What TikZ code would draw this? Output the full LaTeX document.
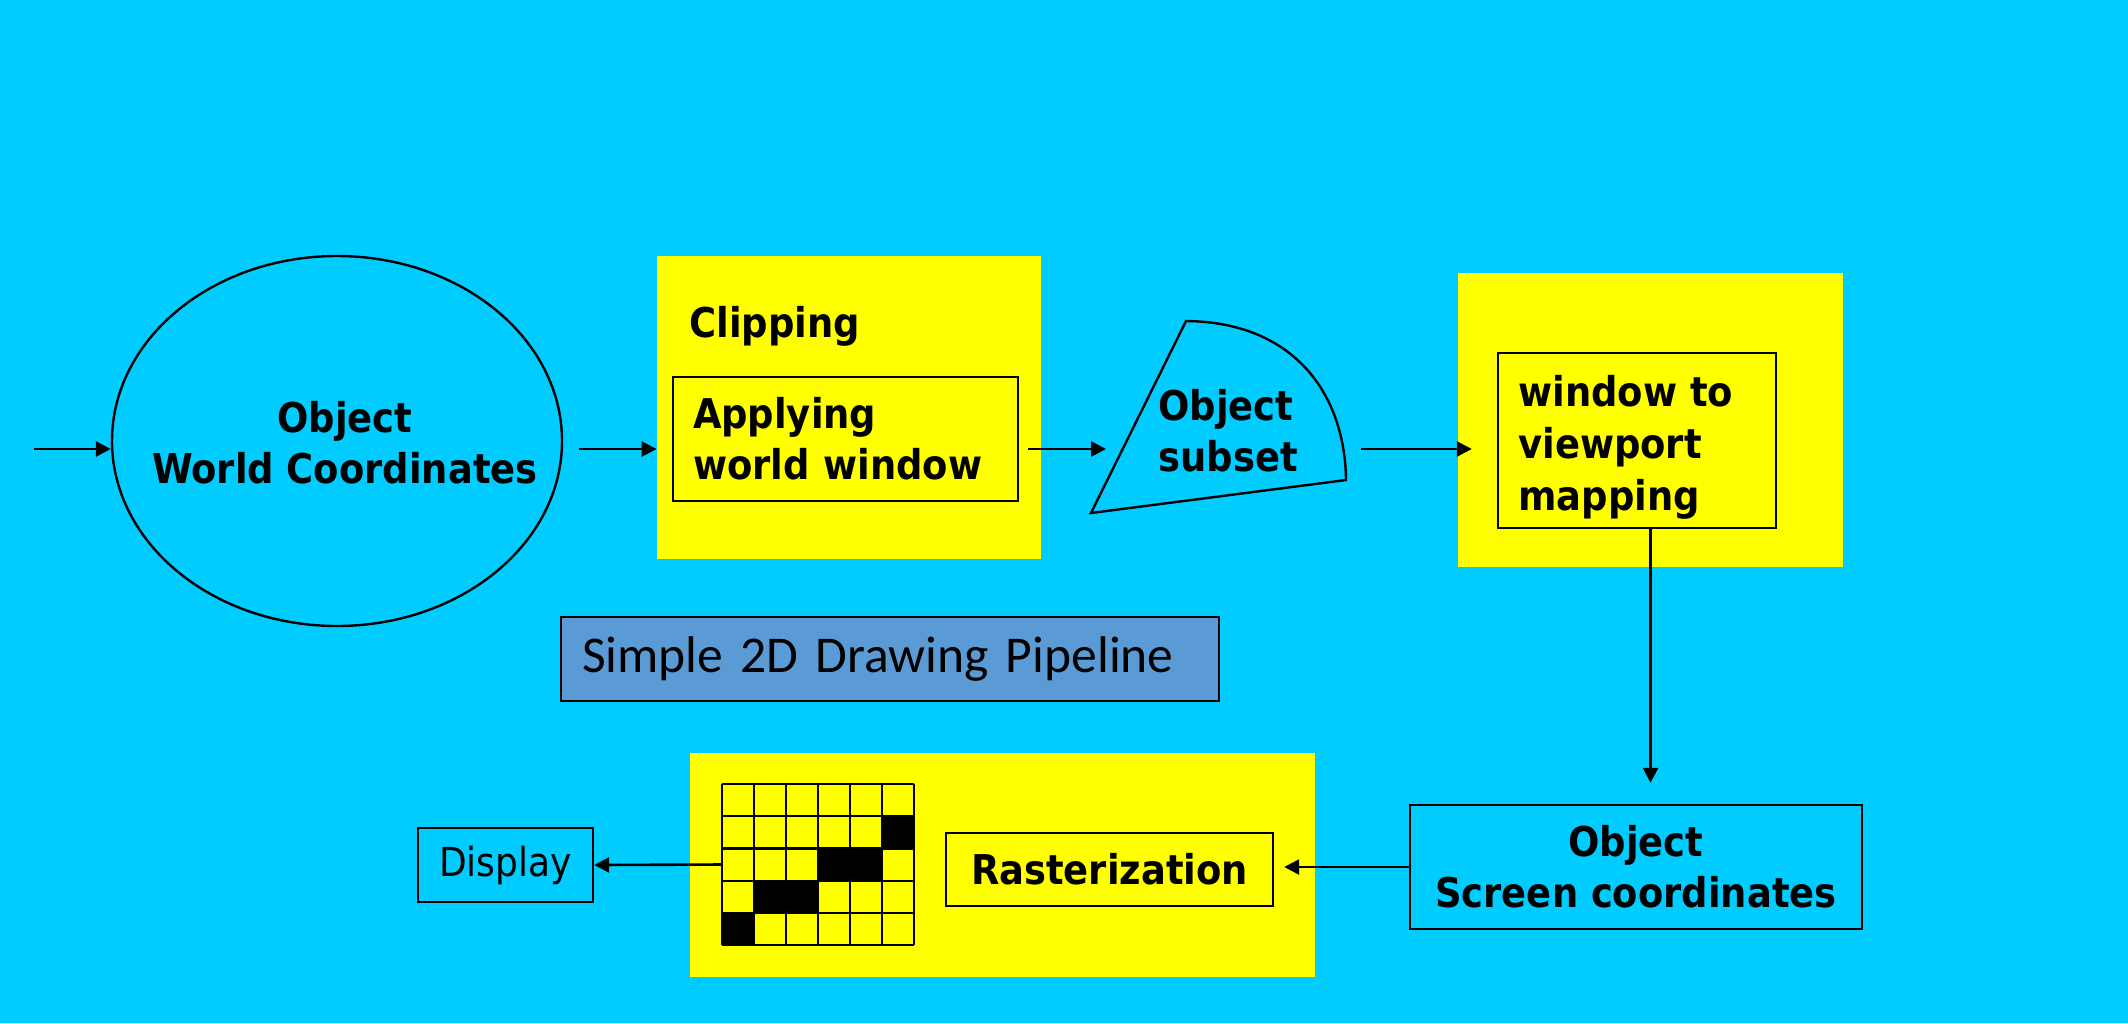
\documentclass[tikz,border=0pt]{standalone}
\usepackage{fontspec}
\setmainfont{DejaVu Sans Condensed}
\newfontfamily\titlefont{Carlito}
\usetikzlibrary{shapes.geometric,arrows.meta,calc}
\definecolor{bgcyan}{HTML}{00CCFF}
\definecolor{ybox}{HTML}{FFFF00}
\definecolor{tbox}{HTML}{5B9BD5}
\begin{document}
\begin{tikzpicture}[x=0.5pt,y=-0.5pt,
  arr/.style={draw=black,line width=1.3pt,-{Triangle[length=7.5pt,width=7.5pt]}},
  panel/.style={fill=ybox,draw=none,inner sep=0pt},
  boldtxt/.style={font=\bfseries\fontsize{20.5}{25.5}\selectfont},
  framed/.style={draw=black,line width=1.2pt},
]
\fill[bgcyan] (0,0) rectangle (2128,1023);
\useasboundingbox (0,0) rectangle (2128,1023);

% ellipse
\node[ellipse,draw=black,line width=1.2pt,minimum width=225pt,minimum height=185pt,inner sep=0pt] (ell) at (337,441) {};
\node[boldtxt,align=center,inner sep=0pt] (elltxt) at (345,443) {Object\\World Coordinates};
\coordinate (in) at (34,449);
\coordinate (row) at (0,449);

% clipping panel
\node[panel,minimum width=192pt,minimum height=151.5pt] (clip) at (849,407.5) {};
\node[boldtxt,anchor=base west,inner sep=0pt] (cliptxt) at (689,337) {Clipping};
\node[framed,fill=ybox,boldtxt,align=left,text width=152.5pt,inner xsep=10pt,inner ysep=0pt,
      minimum height=62pt] (apply) at (845.5,439) {Applying\\world window};

% object subset shape
\coordinate (sA) at (1186,321);
\coordinate (sB) at (1346,480);
\coordinate (sC) at (1091,513);
\draw[line width=1.2pt,fill=bgcyan] (sA) .. controls (1295,322) and (1345,395) .. (sB) -- (sC) -- cycle;
\node[boldtxt,align=left,inner sep=0pt] (sub) at (1228,431) {Object\\subset};
\coordinate (subIn) at (1106,449);
\coordinate (subOut) at (1361,449);

% window to viewport panel
\node[panel,minimum width=192.5pt,minimum height=147pt] (win) at (1650.5,420) {};
\node[framed,fill=ybox,minimum width=139pt,minimum height=87.5pt,inner sep=0pt] (wmap) at (1637,440.5) {};
\node[anchor=west,align=left,inner sep=0pt,font=\bfseries\fontsize{20.5}{26}\selectfont]
      (wmaptxt) at (1518,447) {window to\\viewport\\mapping};

% screen coordinates
\node[framed,fill=bgcyan,boldtxt,align=center,minimum width=226pt,minimum height=62pt,inner sep=0pt]
      (scr) at (1636,867) {Object\\Screen coordinates};

% rasterization panel
\node[panel,minimum width=312.5pt,minimum height=112pt] (rpanel) at (1002.5,865) {};
\node[framed,fill=ybox,boldtxt,minimum width=163.5pt,minimum height=36.5pt,inner sep=0pt]
      (ras) at (1109.5,869.5) {Rasterization};
\node[inner sep=0pt,minimum width=96pt,minimum height=80.5pt] (grid) at (818,864.5) {};
\foreach \r/\c in {1/5,2/3,2/4,3/1,3/2,4/0}
  \fill[black] (722+32*\c,784+32.2*\r) rectangle ++(32,32.2);
\foreach \c in {0,...,6}
  \draw[line width=1.1pt] (722+32*\c,784) -- (722+32*\c,945);
\foreach \r in {0,...,5}
  \draw[line width=1.1pt] (722,784+32.2*\r) -- (914,784+32.2*\r);

% display
\node[framed,fill=bgcyan,minimum width=87.5pt,minimum height=37pt,inner sep=0pt,
      font=\fontsize{20}{24}\selectfont] (disp) at (505.5,865) {Display};

% title
\node[draw=black,line width=0.6pt,fill=tbox,minimum height=42pt,text width=308pt,
      inner xsep=10.5pt,inner ysep=0pt,align=left,font=\titlefont\fontsize{25.8}{30}\selectfont]
      (title) at (890,659) {Simple 2D Drawing Pipeline};

% connectors
\draw[arr] (in) -- (ell.west |- in);
\draw[arr,shorten <=8pt] (ell.east |- row) -- (clip.west |- row);
\draw[arr,shorten <=4.5pt] (apply.east |- subIn) -- (subIn);
\draw[arr,shorten >=12.5pt] (subOut) -- (subOut -| wmap.west);
\draw[arr,shorten >=10.5pt] (win.center |- wmap.south) -- (win.center |- scr.north);
\draw[arr,shorten >=5pt] (scr.west) -- (ras.east |- scr.west);
\draw[arr] (grid.west) -- (disp.east);
\end{tikzpicture}
\end{document}
